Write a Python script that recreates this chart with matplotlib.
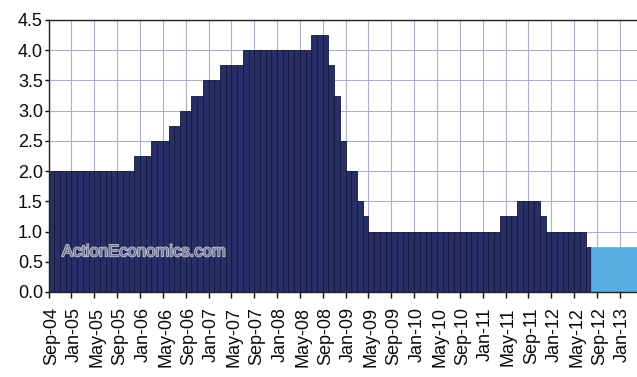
import numpy as np
import pandas as pd
import matplotlib
matplotlib.use("Agg")
import matplotlib.pyplot as plt
import matplotlib.patheffects as pe
from matplotlib.ticker import FormatStrFormatter

# monthly categories, Sep-04 .. Mar-13
months = pd.date_range("2004-09-01", "2013-03-01", freq="MS")

# ECB refi rate, end of month (%), Sep-04 .. Jul-12
refi_actual = [
    2.0, 2.0, 2.0, 2.0,                                                  # 2004
    2.0, 2.0, 2.0, 2.0, 2.0, 2.0, 2.0, 2.0, 2.0, 2.0, 2.0, 2.25,         # 2005
    2.25, 2.25, 2.5, 2.5, 2.5, 2.75, 2.75, 3.0, 3.0, 3.25, 3.25, 3.5,    # 2006
    3.5, 3.5, 3.75, 3.75, 3.75, 3.75, 4.0, 4.0, 4.0, 4.0, 4.0, 4.0,      # 2007
    4.0, 4.0, 4.0, 4.0, 4.0, 4.0, 4.25, 4.25, 4.25, 3.75, 3.25, 2.5,     # 2008
    2.0, 2.0, 1.5, 1.25, 1.0, 1.0, 1.0, 1.0, 1.0, 1.0, 1.0, 1.0,         # 2009
    1.0, 1.0, 1.0, 1.0, 1.0, 1.0, 1.0, 1.0, 1.0, 1.0, 1.0, 1.0,          # 2010
    1.0, 1.0, 1.0, 1.25, 1.25, 1.25, 1.5, 1.5, 1.5, 1.5, 1.25, 1.0,      # 2011
    1.0, 1.0, 1.0, 1.0, 1.0, 1.0, 0.75,                                  # 2012
]

# forecast, Aug-12 .. Mar-13
refi_forecast = [0.75, 0.75, 0.75, 0.75, 0.75, 0.75, 0.75, 0.75]

plt.rcParams["font.family"] = ["Liberation Sans", "DejaVu Sans"]

fig = plt.figure(figsize=(6.37, 3.77), dpi=100)
ax = fig.add_axes([0.0762, 0.2255, 0.9238, 0.7215])

n_act = len(refi_actual)
x_act = np.arange(n_act)
x_fc = np.arange(n_act, n_act + len(refi_forecast))
ax.bar(x_act, refi_actual, width=1.0, align="edge", color="#282e66",
       edgecolor="#15183a", linewidth=0.6, zorder=2)
ax.bar(x_fc, refi_forecast, width=1.0, align="edge", color="#58aee2",
       edgecolor="#58aee2", linewidth=0.5, zorder=2)

ax.set_xlim(0, len(months))
ax.set_ylim(0, 4.5)
ax.set_yticks(np.arange(0, 4.51, 0.5))
ax.yaxis.set_major_formatter(FormatStrFormatter("%.1f"))
ax.tick_params(axis="y", length=3, width=1, pad=1, labelsize=13, colors="#0a0a0a")

# labels centred on the month, ticks on the month boundaries
label_idx = np.arange(0, len(months), 4)
ax.set_xticks(label_idx + 0.5)
ax.set_xticklabels([months[i].strftime("%b-%y") for i in label_idx], rotation=90)
ax.set_xticks(label_idx, minor=True)
ax.tick_params(axis="x", which="major", length=0, pad=11, labelsize=13, colors="#0a0a0a")
ax.tick_params(axis="x", which="minor", length=4, width=1, color="#111111")

ax.set_axisbelow(True)
ax.grid(True, axis="x", which="minor", color="#aab1c9", linewidth=0.8)
ax.grid(True, axis="y", which="major", color="#aab1c9", linewidth=0.8)

for side in ["left", "bottom", "top"]:
    ax.spines[side].set_color("#222222")
    ax.spines[side].set_linewidth(1.0)
ax.spines["right"].set_visible(False)

fig.text(0.097, 0.332, "ActionEconomics.com", fontsize=12, color="#6e7390",
         ha="left", va="center",
         path_effects=[pe.withStroke(linewidth=1.2, foreground="#c4c7d4")])

fig.savefig("out.png", dpi=100)
